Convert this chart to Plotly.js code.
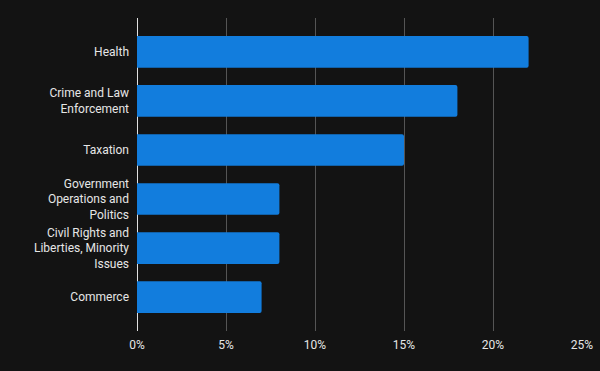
<!DOCTYPE html>
<html>
<head>
<meta charset="utf-8">
<script src="https://cdn.plot.ly/plotly-3.0.1.min.js"></script>
<style>html,body{margin:0;padding:0;background:#131313;}#chart{width:600px;height:371px;}</style>
</head>
<body>
<div id="chart"></div>
<script>
const categories = ["Health", "Crime and Law<br>Enforcement", "Taxation", "Government<br>Operations and<br>Politics", "Civil Rights and<br>Liberties, Minority<br>Issues", "Commerce"];
const shares = [22, 18, 15, 8, 8, 7];
const tickValues = [0, 5, 10, 15, 20, 25];
const tickLabels = ["0%", "5%", "10%", "15%", "20%", "25%"];

const trace = {
  type: "bar",
  orientation: "h",
  x: shares,
  y: categories,
  marker: {color: "#127ddd"},
  width: 0.645,
  hoverinfo: "none"
};

const layout = {
  width: 600, height: 371,
  paper_bgcolor: "#131313",
  plot_bgcolor: "#131313",
  margin: {l: 137, r: 18, t: 18, b: 40},
  font: {family: "Roboto, sans-serif", size: 12, color: "#e6e6e6"},
  barcornerradius: 2,
  showlegend: false,
  xaxis: {
    range: [0, 25],
    tickvals: tickValues,
    ticktext: tickLabels,
    showgrid: true,
    gridcolor: "#555555",
    gridwidth: 1,
    zeroline: true,
    zerolinecolor: "#e0e0e0",
    zerolinewidth: 1,
    showline: false,
    ticks: "",
    ticklabelstandoff: 5,
    fixedrange: true
  },
  yaxis: {
    type: "category",
    autorange: false,
    range: [5.69, -0.69],
    showgrid: false,
    zeroline: false,
    showline: false,
    ticks: "",
    ticklabelstandoff: 7,
    fixedrange: true
  }
};

Plotly.newPlot("chart", [trace], layout, {displayModeBar: false, staticPlot: true});
</script>
</body>
</html>
